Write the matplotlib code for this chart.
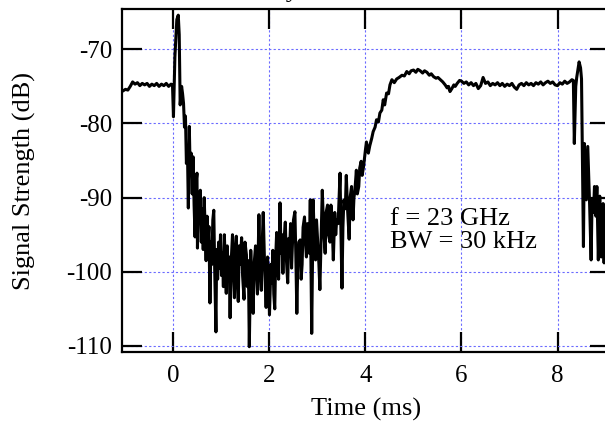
import matplotlib
matplotlib.use('Agg')
import matplotlib.pyplot as plt

time_ms = [
    -1.05, -1.00, -0.95, -0.90, -0.85, -0.80, -0.75, -0.70, -0.65, -0.60,
    -0.55, -0.50, -0.45, -0.40, -0.35, -0.30, -0.25, -0.20, -0.15, -0.10,
    -0.05, -0.02, 0.00, 0.03, 0.07, 0.10, 0.12, 0.14, 0.17, 0.19,
    # noisy fade
    0.21, 0.23, 0.25, 0.27, 0.29, 0.31, 0.33, 0.35, 0.37, 0.39,
    0.41, 0.43, 0.45, 0.47, 0.49, 0.50, 0.52, 0.54, 0.56, 0.58,
    0.60, 0.62, 0.64, 0.66, 0.68, 0.70, 0.72, 0.74, 0.76, 0.78,
    0.80, 0.82, 0.84, 0.86, 0.885, 0.90, 0.92, 0.94, 0.96, 0.98,
    1.00, 1.02, 1.04, 1.06, 1.08, 1.10, 1.12, 1.14, 1.16, 1.18,
    1.20, 1.23, 1.25, 1.27, 1.29, 1.31, 1.33, 1.35, 1.37, 1.39,
    1.42, 1.44, 1.47, 1.49, 1.52, 1.54, 1.56, 1.58, 1.61, 1.63,
    1.66, 1.68, 1.71, 1.73, 1.75, 1.78, 1.80, 1.83, 1.85, 1.87,
    1.90, 1.93, 1.96, 1.98, 2.00, 2.03, 2.05, 2.07, 2.09, 2.11,
    2.13, 2.15, 2.17, 2.19, 2.22, 2.24, 2.26, 2.28, 2.30, 2.33,
    2.35, 2.38, 2.40, 2.42, 2.44, 2.46, 2.48, 2.50, 2.53, 2.55,
    2.57, 2.59, 2.61, 2.64, 2.66, 2.68, 2.70, 2.73, 2.75, 2.77,
    2.79, 2.81, 2.83, 2.85, 2.88, 2.91, 2.93, 2.96, 2.98, 3.00,
    3.03, 3.05, 3.08, 3.10, 3.13, 3.16, 3.18, 3.21, 3.23, 3.26,
    3.28, 3.30, 3.33, 3.36, 3.38, 3.40, 3.43, 3.45, 3.47, 3.49,
    3.51, 3.53, 3.55, 3.58, 3.60, 3.63, 3.66, 3.68, 3.71, 3.74,
    3.76, 3.78, 3.81, 3.83, 3.86, 3.88, 3.91, 3.93, 3.96,
    # recovery and plateau
    4.00, 4.02, 4.06, 4.09, 4.13, 4.16, 4.20, 4.23, 4.27, 4.30,
    4.34, 4.37, 4.40, 4.44, 4.48, 4.51, 4.55, 4.60, 4.65, 4.70,
    4.76, 4.81, 4.86, 4.91, 4.95, 5.00, 5.05, 5.09, 5.14, 5.19,
    5.23, 5.28, 5.33, 5.37, 5.42, 5.47, 5.51, 5.56, 5.61, 5.66,
    5.70, 5.73, 5.76, 5.80, 5.84, 5.87, 5.91, 5.96, 6.00, 6.05,
    6.10, 6.15, 6.20, 6.25, 6.30, 6.35, 6.40, 6.45, 6.50, 6.55,
    6.60, 6.65, 6.70, 6.75, 6.80, 6.85, 6.90, 6.95, 7.00, 7.05,
    7.10, 7.15, 7.20, 7.25, 7.30, 7.35, 7.40, 7.45, 7.50, 7.55,
    7.60, 7.65, 7.70, 7.75, 7.80, 7.85, 7.90, 7.95, 8.00, 8.05,
    8.10, 8.15, 8.20, 8.25, 8.30, 8.33, 8.35, 8.38, 8.40, 8.45,
    8.48, 8.50, 8.54, 8.56, 8.60, 8.63, 8.67, 8.70, 8.72, 8.75,
    8.77, 8.80, 8.82, 8.85, 8.88, 8.91, 8.95, 8.97, 9.00, 9.05,
    9.10,
]
signal_db = [
    -75.6, -75.4, -75.5, -75.0, -74.4, -74.7, -74.5, -74.9, -74.6, -74.8,
    -74.6, -75.0, -74.7, -74.9, -74.6, -75.0, -74.7, -74.9, -74.6, -75.0,
    -74.7, -74.8, -79.1, -71.0, -66.0, -65.4, -68.0, -77.5, -75.0, -76.0,
    # noisy fade
    -77.3, -80.5, -79.0, -85.4, -83.0, -91.4, -80.4, -87.0, -84.0, -89.5,
    -84.5, -91.0, -95.3, -88.0, -86.7, -96.8, -90.0, -93.0, -89.0, -96.0,
    -91.5, -97.0, -90.0, -94.0, -98.5, -92.5, -96.0, -93.9, -104.2, -96.0,
    -99.0, -93.0, -91.7, -100.0, -108.1, -97.0, -101.0, -96.0, -99.5, -95.0,
    -100.5, -97.5, -102.0, -95.0, -99.0, -102.9, -96.5, -100.0, -98.0, -106.2,
    -99.0, -95.0, -100.0, -103.5, -97.0, -95.2, -101.0, -104.0, -96.5, -99.0,
    -95.4, -100.5, -103.7, -96.0, -97.7, -102.0, -98.5, -110.1, -97.1, -101.0,
    -105.6, -99.0, -96.5, -100.0, -103.0, -92.3, -99.0, -102.5, -96.0, -92.0,
    -99.5, -104.8, -98.0, -100.8, -105.8, -99.0, -101.5, -97.1, -103.0, -105.0,
    -98.0, -94.7, -99.0, -101.0, -90.7, -97.5, -95.0, -100.2, -96.0, -93.3,
    -98.0, -101.5, -95.5, -97.0, -93.5, -99.5, -96.0, -93.0, -91.9, -98.0,
    -105.6, -99.0, -96.0, -95.7, -101.0, -99.0, -94.0, -92.6, -96.0, -98.0,
    -93.5, -95.0, -97.5, -90.3, -108.3, -90.3, -95.0, -98.4, -93.0, -95.5,
    -99.0, -102.4, -94.0, -89.0, -94.5, -97.5, -92.0, -91.0, -95.0, -96.0,
    -91.0, -92.5, -98.4, -92.0, -95.0, -93.0, -93.5, -90.0, -86.7, -95.0,
    -102.2, -94.0, -90.3, -91.5, -87.0, -92.0, -95.6, -90.0, -88.5, -93.0,
    -90.0, -89.0, -86.3, -89.5, -88.5, -86.0, -85.1, -87.0, -85.8,
    # recovery and plateau
    -83.5, -82.5, -84.0, -83.0, -82.0, -81.1, -80.5, -79.5, -79.8, -78.6,
    -78.2, -76.8, -77.5, -75.9, -76.0, -74.8, -74.1, -74.5, -74.0, -73.8,
    -73.5, -73.6, -73.0, -73.3, -72.9, -72.8, -73.1, -72.7, -72.9, -73.2,
    -72.9, -73.1, -73.5, -73.3, -73.7, -73.9, -73.8, -74.1, -74.4, -74.8,
    -75.2, -75.0, -75.7, -75.3, -74.8, -75.0, -74.6, -74.2, -74.3, -74.6,
    -74.4, -74.8, -74.5, -74.9, -74.6, -75.3, -74.9, -73.8, -74.6, -74.4,
    -74.9, -74.6, -74.8, -74.5, -74.9, -74.6, -75.0, -74.7, -74.9, -74.6,
    -75.1, -75.4, -74.8, -74.6, -74.9, -74.5, -74.8, -74.6, -74.9, -74.5,
    -74.7, -74.4, -74.8, -74.5, -74.3, -74.6, -74.4, -74.8, -74.9, -74.5,
    -74.7, -74.3, -74.6, -74.4, -74.1, -74.2, -82.7, -75.0, -73.8, -71.7,
    -72.5, -74.0, -96.6, -82.7, -90.3, -83.1, -91.2, -98.4, -90.3, -92.0,
    -88.5, -92.5, -88.5, -98.4, -89.8, -98.0, -90.8, -98.8, -92.0, -97.0,
    -90.0,
]

x_ticks = [0, 2, 4, 6, 8]
y_ticks = [-110, -100, -90, -80, -70]
y_tick_labels = ['-110', '-100', '-90', '-80', '-70']

plt.rcParams['font.family'] = ['Liberation Serif', 'DejaVu Serif']
plt.rcParams['axes.unicode_minus'] = False

fig = plt.figure(figsize=(6.05, 4.21), dpi=100)
# right edge of the frame sits just past the picture, like the original crop
ax = fig.add_axes([0.201, 0.1632, 0.807, 0.8154])

# dotted blue grid behind the trace
ax.grid(True, color='#6b6bff', linestyle=(0, (2, 2)), linewidth=0.8)
ax.set_axisbelow(True)

ax.plot(time_ms, signal_db, color='black', linewidth=2.2)

ax.set_xlim(-1.08, 9.09)
ax.set_ylim(-110.85, -64.57)
ax.set_xticks(x_ticks)
ax.set_yticks(y_ticks)
ax.set_yticklabels(y_tick_labels)

for side in ['left', 'right', 'top', 'bottom']:
    ax.spines[side].set_linewidth(1.6)
ax.tick_params(direction='in', length=14.5, width=1.6, top=True, right=True,
               labelsize=18)
ax.tick_params(axis='x', pad=9)
ax.tick_params(axis='y', pad=7)

ax.set_xlabel('Time (ms)', fontsize=19, labelpad=8)
ax.set_ylabel('Signal Strength (dB)', fontsize=19, labelpad=22)

ax.text(4.51, -91.4, 'f = 23 GHz\nBW = 30 kHz', fontsize=19, va='top',
        ha='left', linespacing=1.05)

# title is cut away by the crop, only a descender peeks in at the top
fig.text(0.494, 1.008, 'Delay', fontsize=19, ha='right', va='baseline')

fig.savefig('out.png', dpi=100)
